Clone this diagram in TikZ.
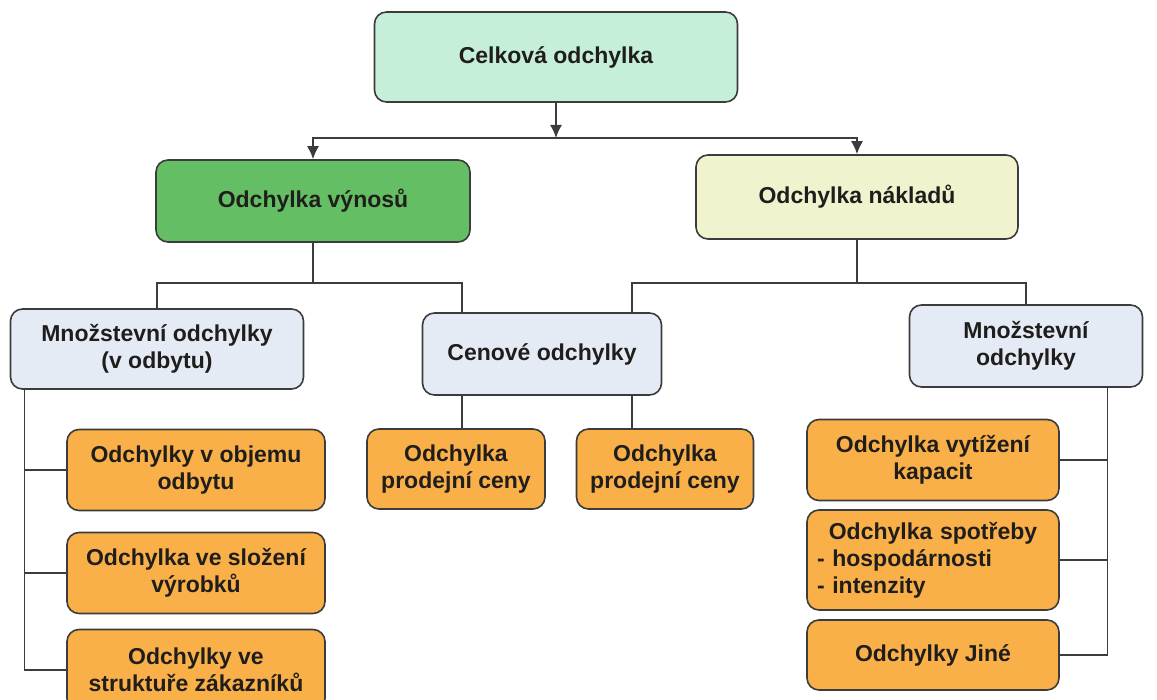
\documentclass[tikz,border=0pt]{standalone}
\usepackage{fontspec}
\setmainfont{Liberation Sans}
\usepackage{tikz}
\usetikzlibrary{arrows.meta}

\definecolor{mintfill}{RGB}{198,239,218}
\definecolor{greenfill}{RGB}{100,190,100}
\definecolor{creamfill}{RGB}{240,243,206}
\definecolor{bluefill}{RGB}{229,235,245}
\definecolor{orangefill}{RGB}{249,176,72}
\definecolor{edgegray}{RGB}{60,60,60}
\definecolor{textdark}{RGB}{32,30,28}

\tikzset{
    box/.style={draw=edgegray, line width=0.8pt, rounded corners=6pt, inner sep=0pt,
        align=center, text=textdark, font=\fontsize{11.5}{13.5}\selectfont\bfseries},
    link/.style={draw=edgegray, line width=0.75pt},
    tip/.style={-{Latex[length=6.5pt,width=6pt]}}
}

\begin{document}
\begin{tikzpicture}[x=0.5pt,y=-0.5pt]
    \useasboundingbox (0,0) rectangle (1157,700);
    % level 1 and 2
    \node[box, fill=mintfill, minimum width=181.5pt, minimum height=45pt] (total) at (556,57) {Celková odchylka};
    \node[box, fill=greenfill, minimum width=157pt, minimum height=41pt] (rev) at (313,201) {Odchylka výnosů};
    \node[box, fill=creamfill, minimum width=161pt, minimum height=42pt] (cost) at (857,197) {Odchylka nákladů};
    % level 3
    \node[box, fill=bluefill, minimum width=146.5pt, minimum height=40pt] (qty1) at (157,349) {Množstevní odchylky\\(v odbytu)};
    \node[box, fill=bluefill, minimum width=119.5pt, minimum height=41pt] (price) at (542,354) {Cenové odchylky};
    \node[box, fill=bluefill, minimum width=116.5pt, minimum height=41pt] (qty2) at (1026,346) {Množstevní\\odchylky};
    % level 4
    \node[box, fill=orangefill, minimum width=129pt, minimum height=40.5pt] (v1) at (196,470) {Odchylky v objemu\\odbytu};
    \node[box, fill=orangefill, minimum width=129pt, minimum height=40.5pt] (v2) at (196,573) {Odchylka ve složení\\výrobků};
    \node[box, fill=orangefill, minimum width=129pt, minimum height=40.5pt] (v3) at (196,670) {Odchylky ve\\struktuře zákazníků};
    \node[box, fill=orangefill, minimum width=89pt, minimum height=40pt] (pr1) at (456,469) {Odchylka\\prodejní ceny};
    \node[box, fill=orangefill, minimum width=88.5pt, minimum height=40pt] (pr2) at (665,469) {Odchylka\\prodejní ceny};
    \node[box, fill=orangefill, minimum width=126pt, minimum height=40.5pt] (w1) at (933,460) {Odchylka vytížení\\kapacit};
    \node[box, fill=orangefill, minimum width=126pt, minimum height=50pt, align=left, text width=116pt] (w2) at (933,560)
        {\makebox[116pt]{Odchylka spotřeby}\\- hospodárnosti\\- intenzity};
    \node[box, fill=orangefill, minimum width=126pt, minimum height=35pt] (w3) at (933,655) {Odchylky Jiné};

    % connectors
    \coordinate (top) at (556,138);
    \draw[link,tip] (total) -- (top);
    \draw[link,tip] (top) -| (rev);
    \draw[link,tip] (top) -| (cost);

    \coordinate (rj) at (313,283);
    \coordinate (cj) at (857,283);
    \coordinate (pl) at ([xshift=-40pt]price.north);
    \coordinate (pr) at ([xshift=45pt]price.north);
    \draw[link] (rev) -- (rj);
    \draw[link] (rj) -| (qty1);
    \draw[link] (rj) -| (pl);
    \draw[link] (cost) -- (cj);
    \draw[link] (cj) -| (pr);
    \draw[link] (cj) -| (qty2);

    \coordinate (ps1) at ([xshift=-40pt]price.south);
    \coordinate (ps2) at ([xshift=45pt]price.south);
    \draw[link] (ps1) -- (ps1 |- pr1.north);
    \draw[link] (ps2) -- (ps2 |- pr2.north);

    \coordinate (lb) at ([xshift=7.5pt]qty1.south west);
    \draw[link] (lb) |- (v3);
    \draw[link] (lb |- v1) -- (v1);
    \draw[link] (lb |- v2) -- (v2);

    \coordinate (rb) at ([xshift=-18pt]qty2.south east);
    \draw[link] (rb) |- (w3);
    \draw[link] (rb |- w1) -- (w1);
    \draw[link] (rb |- w2) -- (w2);
\end{tikzpicture}
\end{document}
